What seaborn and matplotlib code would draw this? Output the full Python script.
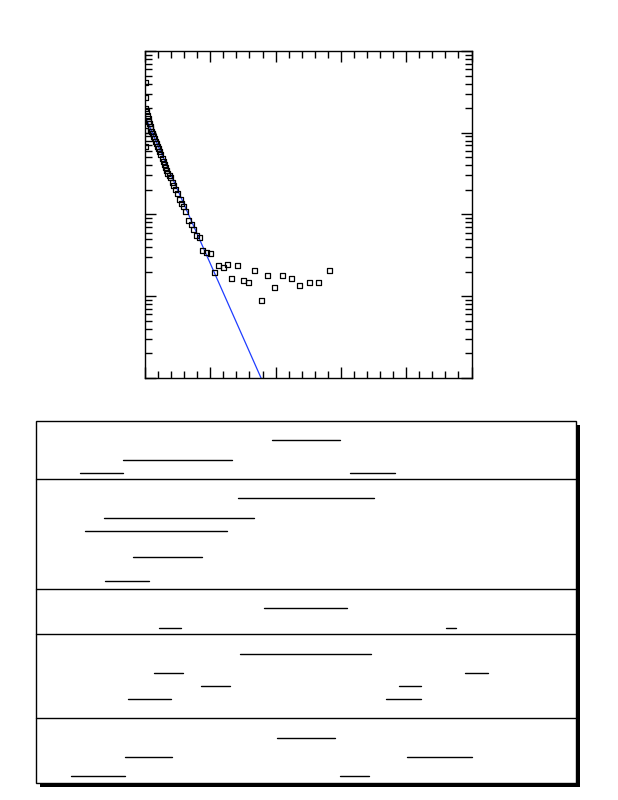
import matplotlib
matplotlib.use("Agg")
import matplotlib.pyplot as plt
from matplotlib.ticker import MultipleLocator, LogLocator, NullFormatter
from matplotlib.patches import Rectangle
from matplotlib.lines import Line2D
import seaborn as sns
import pandas as pd

# ---- data ----
obs_x = [0.005, 0.008, 0.010, 0.012,
         0.015, 0.026, 0.036, 0.046, 0.056, 0.066, 0.077, 0.087, 0.102, 0.117,
         0.128, 0.143, 0.158, 0.174, 0.189, 0.204, 0.220, 0.240, 0.266, 0.281,
         0.296, 0.312, 0.332, 0.347, 0.373, 0.393, 0.424, 0.439, 0.470, 0.501,
         0.536, 0.562, 0.587, 0.618, 0.669, 0.705, 0.746, 0.792, 0.838, 0.884,
         0.945, 1.001, 1.057, 1.124, 1.195, 1.262, 1.328, 1.415, 1.502, 1.588,
         1.680, 1.782, 1.879, 1.987, 2.109, 2.247, 2.370, 2.518, 2.661, 2.819]
obs_y = [0.41, 0.27, 0.107, 0.067,
         0.198, 0.180, 0.164, 0.149, 0.138, 0.129, 0.120, 0.112, 0.105, 0.0977,
         0.0906, 0.0848, 0.0787, 0.0736, 0.0683, 0.0633, 0.0582, 0.0545, 0.0482, 0.0451,
         0.0410, 0.0381, 0.0347, 0.0321, 0.0301, 0.0287, 0.0249, 0.0227, 0.0201, 0.0183,
         0.0154, 0.0138, 0.0125, 0.0109, 0.00844, 0.00746, 0.00661, 0.00552, 0.00527, 0.00365,
         0.00345, 0.00336, 0.00196, 0.00237, 0.00226, 0.00246, 0.00166, 0.00239, 0.00156, 0.00148,
         0.00207, 0.000889, 0.00177, 0.00127, 0.00177, 0.00166, 0.00137, 0.00148, 0.00148, 0.00207]
fit_x = [0.0, 1.80]
fit_y = [0.159, 9.1e-5]

# ---- layout (pixels) for the empty underlined table below ----
table_box = (36, 421, 576, 783)
table_rows = [479, 589, 634, 718]
table_marks = [
    (440, 272, 340), (460, 123, 232), (473, 80, 123), (473, 350, 395),
    (498, 238, 374), (518, 104, 254), (531, 85, 227), (557, 133, 202), (581, 105, 149),
    (608, 264, 347), (628, 159, 181), (628, 446, 456),
    (654, 240, 371), (673, 154, 183), (673, 465, 488), (686, 201, 230), (686, 399, 421),
    (699, 128, 171), (699, 386, 421),
    (738, 277, 335), (757, 125, 172), (757, 407, 472), (776, 71, 125), (776, 340, 369),
]

sns.set_theme(style="white")
W, H = 618, 800
fig = plt.figure(figsize=(W / 100, H / 100), dpi=100)
fig.patch.set_facecolor("white")

ax = fig.add_axes([145 / W, 1 - 378 / H, 326.5 / W, 327 / H])
df = pd.DataFrame({"x": obs_x, "y": obs_y})
fit = pd.DataFrame({"x": fit_x, "y": fit_y})
sns.lineplot(data=fit, x="x", y="y", ax=ax, color="#1f3dff", linewidth=0.9, zorder=2)
sns.scatterplot(data=df, x="x", y="y", ax=ax, marker="s", s=13,
                facecolor="none", edgecolor="black", linewidth=0.9, zorder=3)
ax.set_yscale("log")
ax.set_xlim(0, 5)
ax.set_ylim(1e-4, 1)
ax.xaxis.set_major_locator(MultipleLocator(1))
ax.xaxis.set_minor_locator(MultipleLocator(0.2))
ax.yaxis.set_major_locator(LogLocator(base=10))
ax.yaxis.set_minor_locator(LogLocator(base=10, subs=range(2, 10)))
ax.yaxis.set_minor_formatter(NullFormatter())
ax.set_xlabel("")
ax.set_ylabel("")
ax.tick_params(which="both", direction="in", top=True, right=True, bottom=True, left=True,
               labelbottom=False, labelleft=False, color="black", width=1.0)
ax.tick_params(which="major", length=8)
ax.tick_params(which="minor", length=5)
for sp in ax.spines.values():
    sp.set_color("black")
    sp.set_linewidth(1.0)
ax.grid(False)

# table overlay in pixel coordinates
tx = fig.add_axes([0, 0, 1, 1], facecolor="none")
tx.set_xlim(0, W)
tx.set_ylim(H, 0)
tx.axis("off")
x0, y0, x1, y1 = table_box
tx.add_patch(Rectangle((x0 + 4, y0 + 4), x1 - x0, y1 - y0, facecolor="black", edgecolor="none", zorder=1))
tx.add_patch(Rectangle((x0, y0), x1 - x0, y1 - y0, facecolor="white", edgecolor="black", linewidth=1.0, zorder=2))
for r in table_rows:
    tx.add_line(Line2D([x0, x1], [r, r], color="black", linewidth=1.0, zorder=3))
for yy, xa, xb in table_marks:
    tx.add_line(Line2D([xa, xb], [yy, yy], color="black", linewidth=1.0, zorder=3))

fig.savefig("out.png", dpi=100)
